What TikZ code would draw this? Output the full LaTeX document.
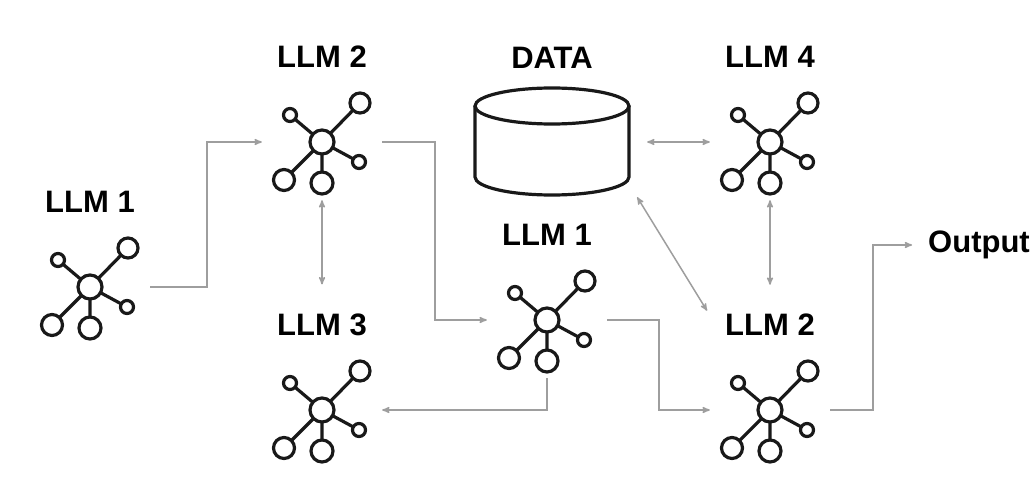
\documentclass[tikz,border=0pt]{standalone}
\usepackage{fontspec}
\setmainfont{Liberation Sans}
\usepackage{tikz}
\usetikzlibrary{arrows, positioning}
\colorlet{colorLink}{black!38}
\colorlet{colorIcon}{black!90}
\tikzset{
  llmbox/.style={minimum width=120pt, minimum height=116pt, inner sep=0pt},
  llmlabel/.style={font=\bfseries\fontsize{31}{36}\selectfont, inner sep=3pt},
  link/.style={colorLink, line width=1.5pt},
  pics/llmicon/.style={code={
    \draw[colorIcon, line width=3.2pt] (0,0) -- (38,-39) (0,0) -- (-32,-27) (0,0) -- (37,20) (0,0) -- (-38,38) (0,0) -- (0,41);
    \draw[colorIcon, line width=3.2pt, fill=white] (0,0) circle (12pt) (38,-39) circle (10pt) (-32,-27) circle (6.5pt) (37,20) circle (6.5pt) (-38,38) circle (10.5pt) (0,41) circle (11pt);
  }}
}
\begin{document}
\begin{tikzpicture}[x=1pt, y=-1pt, >=stealth', node distance=13pt]
\useasboundingbox (0,0) rectangle (1035,500);
% the LLM icons
\node[llmbox] (llmA) at (90,287) {};
\node[llmbox] (llmB) at (322,142) {};
\node[llmbox] (llmC) at (322,410) {};
\node[llmbox] (llmD) at (547,320) {};
\node[llmbox] (llmE) at (770,142) {};
\node[llmbox] (llmF) at (770,410) {};
\foreach \n/\t in {llmA/LLM 1, llmB/LLM 2, llmC/LLM 3, llmD/LLM 1, llmE/LLM 4, llmF/LLM 2}{
  \pic at (\n) {llmicon};
  \node[llmlabel, above=of \n] (lab\n) {\t};
}
% the data store
\node[minimum width=170pt, minimum height=110pt, inner sep=0pt] (data) at (552,142) {};
\draw[colorIcon, line width=3.2pt] (475,106) -- (475,177) arc[start angle=180, end angle=360, x radius=77pt, y radius=18pt] -- (629,106);
\draw[colorIcon, line width=3.2pt] (552,106) ellipse [x radius=77pt, y radius=18pt];
\node[llmlabel, above=15pt of data] (labData) {DATA};
\node[llmlabel, anchor=west] (output) at (925,245) {Output};
% connectors
\draw[link, ->] (llmA.east) -- ++(57,0) |- (llmB.west);
\draw[link, ->] (llmB.east) -- ++(53,0) |- (llmD.west);
\draw[link, <->, shorten >=26pt] (llmB.south) -- (labllmC.north);
\draw[link, ->] (llmD.south) |- (llmC.east);
\draw[link, ->] (llmD.east) -- ++(52,0) |- (llmF.west);
\draw[link, <->, shorten <=10pt] (data.east) -- (llmE.west);
\draw[link, <->, shorten >=26pt] (llmE.south) -- (labllmF.north);
\draw[link, <->] (data.south east) -- ([xshift=-15pt]labllmF.north west);
\draw[link, ->, shorten >=13pt] (llmF.east) -- ++(43,0) |- (output.west);
\end{tikzpicture}
\end{document}
